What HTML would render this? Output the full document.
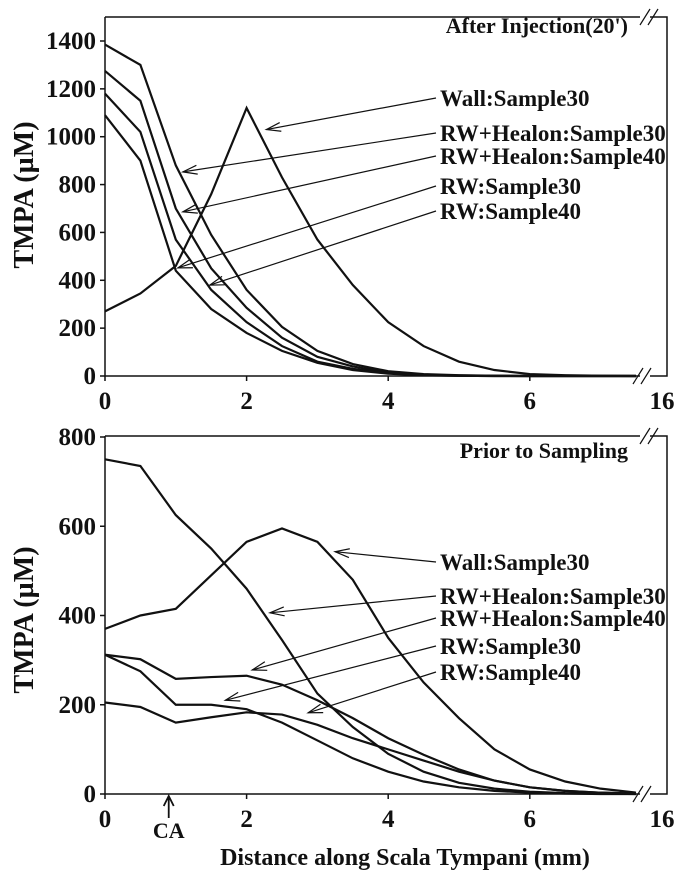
<!DOCTYPE html>
<html><head><meta charset="utf-8"><style>
body{margin:0;background:#fff}
svg{display:block}
text{font-family:"Liberation Serif",serif;font-weight:bold;fill:#111}
</style></head><body>
<svg id="c" width="681" height="874" xmlns="http://www.w3.org/2000/svg"></svg>
<script>
const xs=[0,0.5,1,1.5,2,2.5,3,3.5,4,4.5,5,5.5,6,6.5,7,7.5];
const xTicks=[0,2,4,6];
const topTicks=[0,200,400,600,800,1000,1200,1400];
const botTicks=[0,200,400,600,800];
const topWall=[270,345,460,760,1120,830,570,380,225,125,60,25,8,3,1,0];
const topRWH30=[1385,1300,880,590,360,205,105,50,20,8,3,1,0,0,0,0];
const topRWH40=[1275,1150,700,450,285,160,80,40,15,5,2,1,0,0,0,0];
const topRW30=[1180,1020,570,360,225,125,60,30,12,4,1,0,0,0,0,0];
const topRW40=[1090,900,440,280,180,105,55,25,10,3,1,0,0,0,0,0];
const botWall=[370,400,415,490,565,595,565,480,350,250,170,100,55,28,12,3];
const botRWH30=[750,735,625,550,460,345,225,150,90,50,25,12,5,2,1,0];
const botRWH40=[312,302,258,262,265,245,210,170,125,88,55,30,15,7,3,1];
const botRW30=[312,275,200,200,190,160,120,80,50,28,15,7,3,1,0,0];
const botRW40=[205,195,160,172,183,178,155,125,100,75,50,30,15,7,3,1];
const names=["Wall:Sample30","RW+Healon:Sample30","RW+Healon:Sample40","RW:Sample30","RW:Sample40"];

const NS="http://www.w3.org/2000/svg",svg=document.getElementById('c');
function el(t,a,p){const e=document.createElementNS(NS,t);for(const k in a)e.setAttribute(k,a[k]);(p||svg).appendChild(e);return e;}
const X=v=>105+v*70.8;
function panel(cfg){
  const g=el('g',{});
  
  
  const Y=v=>cfg.y0-(v/cfg.max)*(cfg.y0-cfg.yTop);
  const f=el('path',{d:`M105,${cfg.frameTop}V${cfg.y0}H640 M650,${cfg.y0}H667V${cfg.frameTop}H650 M640,${cfg.frameTop}H105`,fill:'none',stroke:'#111','stroke-width':1.5},g);
  
  
  el('path',{d:`M633,${cfg.y0+8}L643,${cfg.y0-8} M641,${cfg.y0+8}L651,${cfg.y0-8} M640,${cfg.frameTop+8}L650,${cfg.frameTop-8} M648,${cfg.frameTop+8}L658,${cfg.frameTop-8}`,stroke:'#111','stroke-width':1.2},g);
  cfg.yt.forEach(v=>{
    el('line',{x1:100,x2:105,y1:Y(v),y2:Y(v),stroke:'#111','stroke-width':1.5},g);
    const t=el('text',{x:96,y:Y(v)+8,'text-anchor':'end','font-size':25},g);t.textContent=v;
    
    
  });
  xTicks.forEach(v=>{
    el('line',{x1:X(v),x2:X(v),y1:cfg.y0,y2:cfg.y0+5,stroke:'#111','stroke-width':1.5},g);
    const t=el('text',{x:X(v),y:cfg.y0+33,'text-anchor':'middle','font-size':25},g);t.textContent=v;
    
    
  });
  const t16=el('text',{x:662,y:cfg.y0+33,'text-anchor':'middle','font-size':25},g);t16.textContent='16';
  
  
  const yl=el('text',{transform:`translate(33,${cfg.yc}) rotate(-90)`,'text-anchor':'middle','font-size':28},g);
  yl.textContent='TMPA (\u00B5M)';
  
  
  const tt=el('text',{x:628,y:cfg.titleY,'text-anchor':'end','font-size':22},g);tt.textContent=cfg.title;
  
  
  cfg.series.forEach((s,i)=>{
    const p=el('polyline',{points:s.map((v,j)=>X(xs[j])+','+Y(v)).join(' '),fill:'none',stroke:'#111','stroke-width':2.2},g);
    
    
    const lb=cfg.labels[i];
    const tx=el('text',{x:lb[0],y:lb[1]+8,'font-size':23},g);tx.textContent=names[i];
    
    
    const ax=X(lb[2]),ay=Y(lb[3]);
    el('line',{x1:lb[0]-4,y1:lb[1],x2:ax,y2:ay,stroke:'#111','stroke-width':1.2},g);
    const ang=Math.atan2(lb[1]-ay,lb[0]-4-ax);
    const a1=ang+0.3,a2=ang-0.3;
    el('path',{d:`M${ax+15*Math.cos(a1)},${ay+15*Math.sin(a1)}L${ax},${ay}L${ax+15*Math.cos(a2)},${ay+15*Math.sin(a2)}`,fill:'none',stroke:'#111','stroke-width':1.2},g);
  });
}
panel({name:'top-panel',y0:376,yTop:41,frameTop:17,max:1400,yt:topTicks,title:"After Injection(20')",titleY:33,yc:195,
 series:[topWall,topRWH30,topRWH40,topRW30,topRW40],
 labels:[[440,98,2.28,1030],[440,133,1.1,853],[440,156,1.1,686],[440,186,1.03,452],[440,211,1.48,380]]});
panel({name:'bottom-panel',y0:794,yTop:437,frameTop:436,max:800,yt:botTicks,title:"Prior to Sampling",titleY:458,yc:620,
 series:[botWall,botRWH30,botRWH40,botRW30,botRW40],
 labels:[[440,562,3.25,543],[440,596,2.33,406],[440,618,2.08,278],[440,646,1.7,210],[440,672,2.87,182]]});
el('path',{d:`M${X(0.9)},796V818 M${X(0.9)-5},806L${X(0.9)},796L${X(0.9)+5},806`,fill:'none',stroke:'#111','stroke-width':1.8});
const ca=el('text',{x:X(0.9),y:838,'text-anchor':'middle','font-size':22});ca.textContent='CA';


const xt=el('text',{x:405,y:865,'text-anchor':'middle','font-size':24});xt.textContent='Distance along Scala Tympani (mm)';


</script>
</body></html>
